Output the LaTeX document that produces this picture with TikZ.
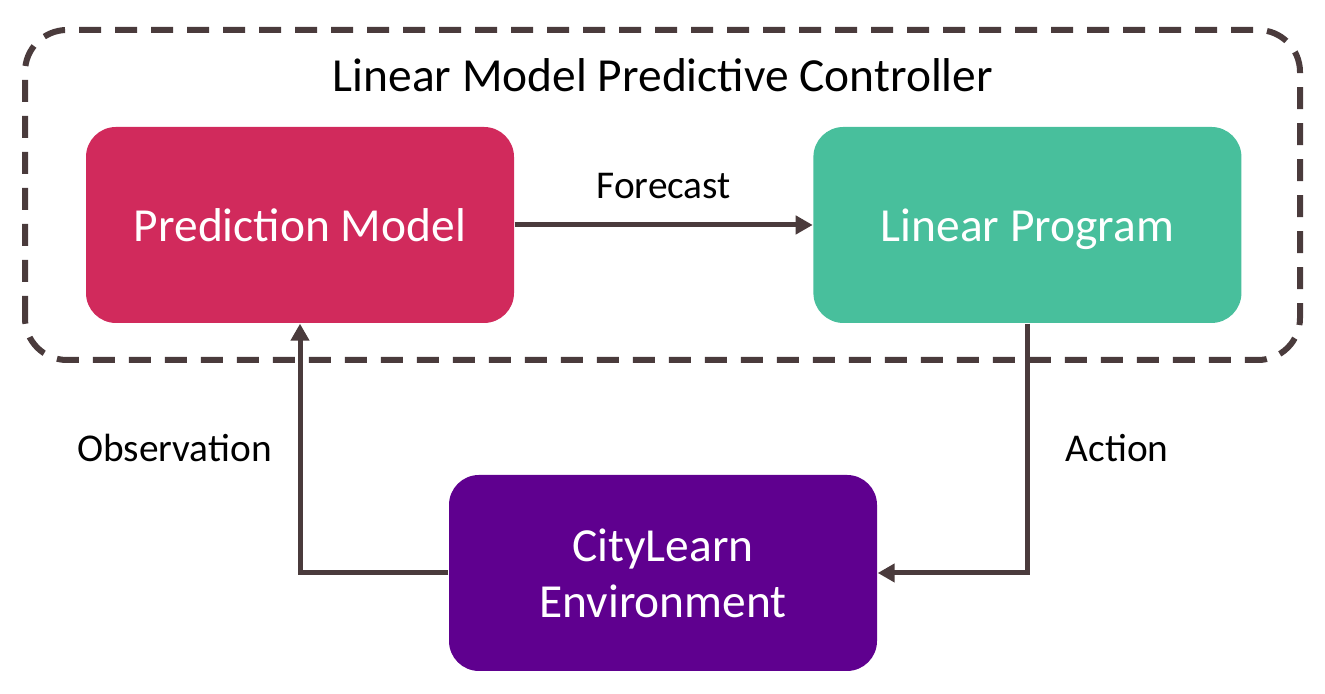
\documentclass[tikz,border=0pt]{standalone}
\usepackage{fontspec}
\setmainfont{Carlito}
\usepackage{xcolor}
\usepackage{tikz}
\usetikzlibrary{positioning, calc, arrows.meta}

\definecolor{PredRed}{HTML}{D12A5C}
\definecolor{ProgGreen}{HTML}{48BF9C}
\definecolor{EnvPurple}{HTML}{5F008F}
\definecolor{LineBrown}{HTML}{4A3B3C}

\begin{document}
\begin{tikzpicture}[
					BlockNode/.style={rectangle, rounded corners=0.3cm, minimum width=4.28cm, minimum height=1.96cm, align=center, text=white, font=\fontsize{13.5}{16}\selectfont},
					ControllerBorder/.style={draw=LineBrown, line width=0.06cm, dash pattern=on 0.22cm off 0.14cm, rounded corners=0.42cm},
					FlowLine/.style={draw=LineBrown, line width=0.05cm, -{Triangle[length=0.17cm, width=0.18cm]}},
					FlowLabel/.style={font=\fontsize{11.2}{13}\selectfont}]

				\useasboundingbox (0,0) rectangle (13.25,6.94);

				% Controller frame
				\draw[ControllerBorder] (0.25,3.34) rectangle (13.0,6.64);
				\node[font=\fontsize{13.5}{16}\selectfont] (ControllerTitle) at (6.63,6.19) {Linear Model Predictive Controller};

				% Nodes
				\node[BlockNode, fill=PredRed, text depth=0pt] (PredNode) at (3.0,4.69) {Prediction Model};
				\node[BlockNode, fill=ProgGreen, text depth=0pt] (ProgNode) [right=2.98cm of PredNode] {Linear Program};
				\node[BlockNode, fill=EnvPurple] (EnvNode) at (6.63,1.21) {CityLearn\\Environment};

				% Lines
				\draw[FlowLine] (PredNode) to node[FlowLabel, above=0.12cm] {Forecast} (ProgNode);
				\draw[FlowLine] (EnvNode.west) -| node[FlowLabel, pos=0.75, left=0.14cm] {Observation} (PredNode.south);
				\draw[FlowLine] (ProgNode.south) |- node[FlowLabel, pos=0.25, right=0.24cm] {Action} (EnvNode.east);
			\end{tikzpicture}
\end{document}
